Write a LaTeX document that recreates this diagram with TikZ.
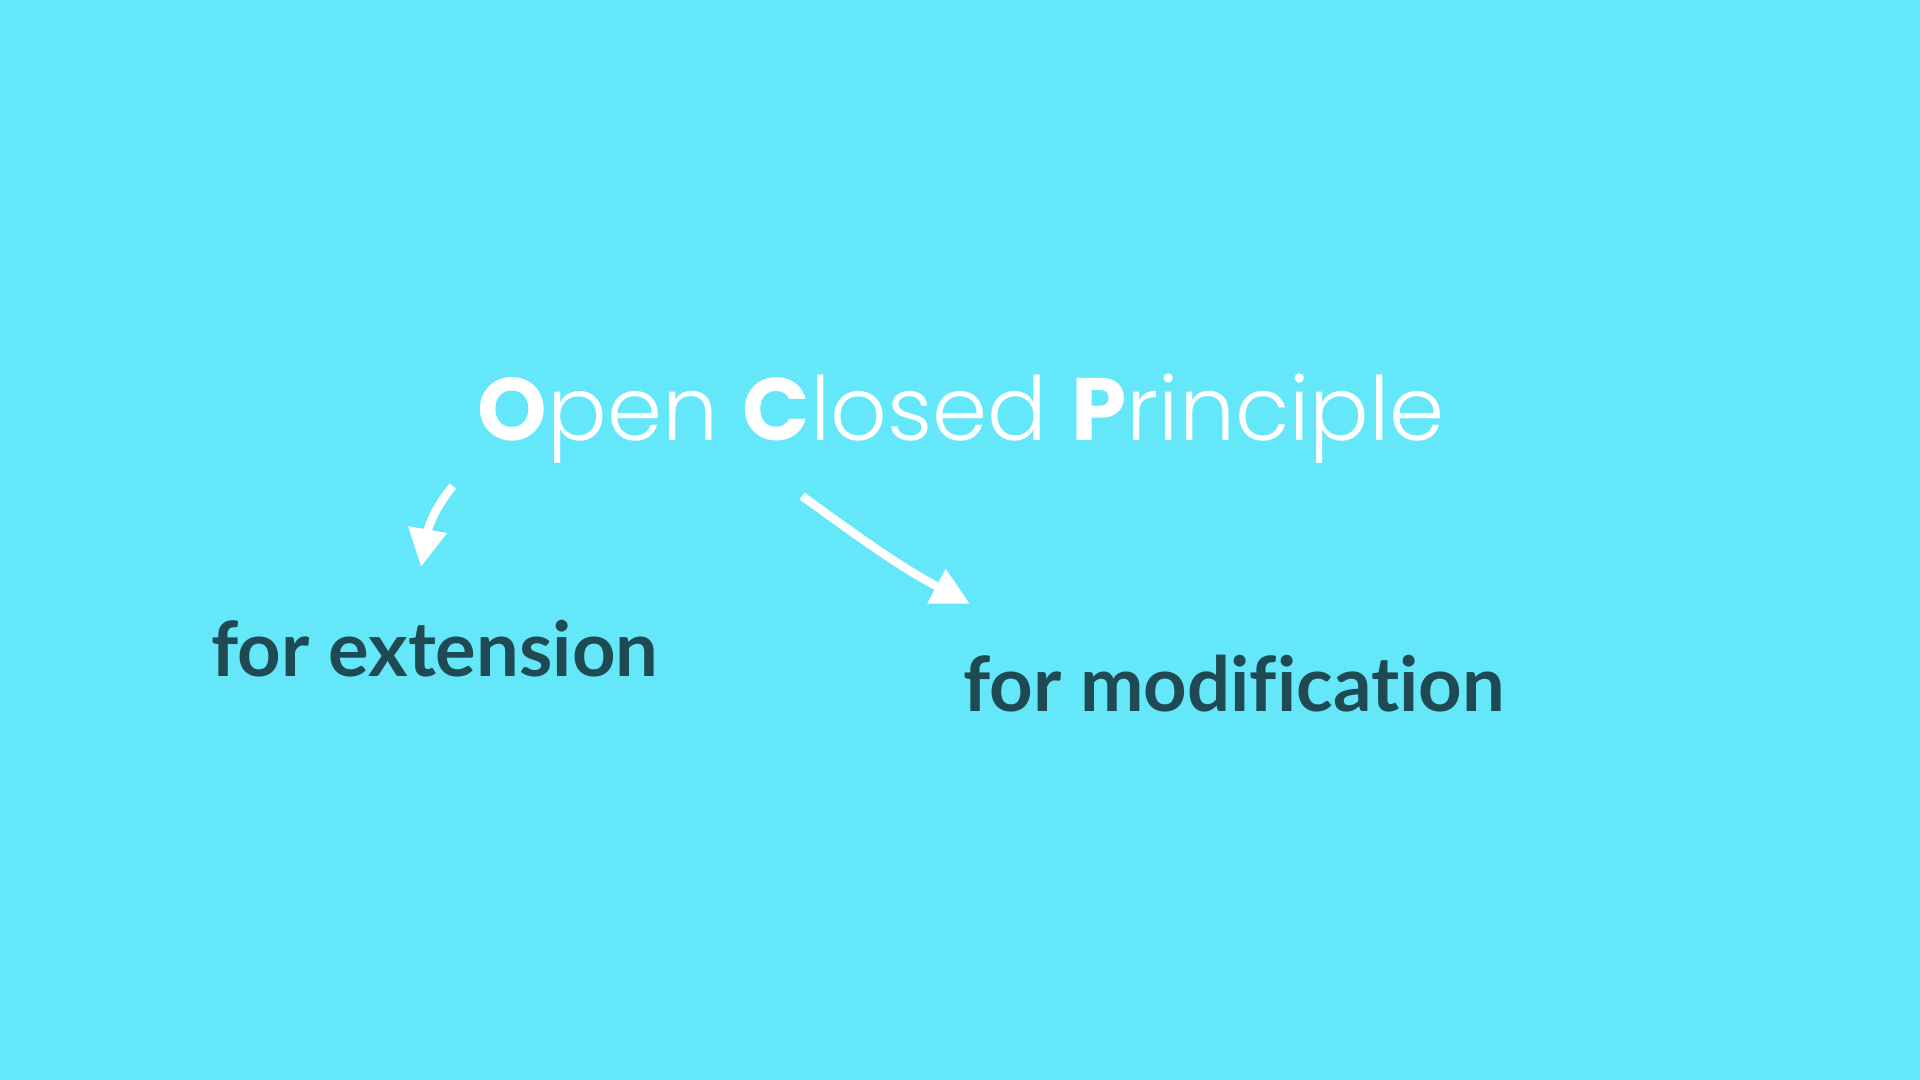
\documentclass[tikz,border=0pt]{standalone}
\usepackage{fontspec}
\usepackage{xcolor}
\usetikzlibrary{arrows.meta, positioning}
\setmainfont{Poppins}
\newfontfamily\lightfont{Poppins Light}
\newfontfamily\handfont[Ligatures=NoCommon]{Lato}
\definecolor{sky}{HTML}{64E7F9}
\definecolor{ink}{HTML}{1F4A54}
\tikzstyle{heading} = [inner sep=0pt, anchor=base west, text=white, font=\lightfont\fontsize{25.2}{30}\selectfont]
\tikzstyle{note} = [inner sep=0pt, anchor=base west, text=ink, font=\handfont\bfseries\fontsize{21.6}{25}\selectfont]
\tikzstyle{arrow} = [white, line width=2.4pt, -{Triangle[length=0.38cm, width=0.37cm]}]

\begin{document}
\begin{tikzpicture}
    \useasboundingbox (0,0) rectangle (19.2,10.8);
    \fill[sky] (0,0) rectangle (19.2,10.8);

    % Title
    \node (title) [heading] at (4.77,6.39) {{\fontspec{Poppins}\bfseries O}pen {\fontspec{Poppins}\bfseries C}losed {\fontspec{Poppins}\bfseries P}rinciple};

    % Branches
    \node (ext) [note] at (2.11,4.03) {for extension};
    \node (mod) [note] at (9.63,3.68) {for modification};

    % Arrow ends
    \coordinate (extstart) at (4.53,5.94);
    \coordinate (extend) at (4.21,5.13);
    \coordinate (modstart) at (8.02,5.84);
    \coordinate (modend) at (9.70,4.76);

    % Arrows
    \draw [arrow] (extstart) to[out=230, in=80] (extend);
    \draw [arrow] (modstart) to[out=-36, in=152] (modend);
\end{tikzpicture}
\end{document}
